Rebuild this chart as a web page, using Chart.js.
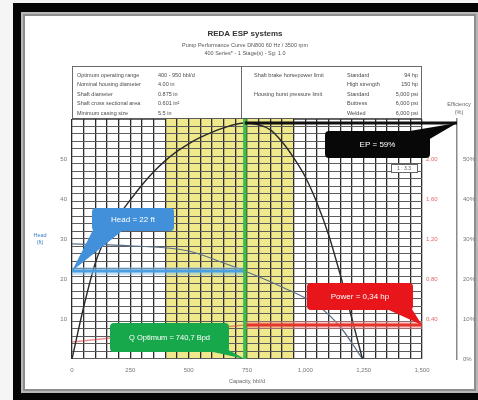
<!DOCTYPE html>
<html>
<head>
<meta charset="utf-8">
<script src="https://cdn.jsdelivr.net/npm/chart.js@4.4.1/dist/chart.umd.min.js"></script>
<style>
  html, body { margin: 0; padding: 0; background: #fff; overflow: hidden; }
  #wrap { width: 478px; height: 400px; }
</style>
</head>
<body>
<div id="wrap"><canvas id="pumpCurve" width="478" height="400"></canvas></div>
<script>
// ---- Pump curve data (capacity in bbl/d) ----
const effCapacity   = [0, 50, 100, 150, 200, 250, 300, 350, 400, 450, 500, 550, 650, 740.7, 850, 900, 950, 1000, 1050, 1100, 1150, 1200, 1245];
const effValues     = [0, 13, 24, 31, 35.8, 39.8, 43.5, 46.8, 49.6, 51.9, 53.8, 55.4, 57.8, 59, 57.3, 54.3, 50.3, 45.5, 39, 31, 21, 10, 0];

const headCapacity  = [0, 250, 500, 650, 740.7, 900, 1050, 1150, 1245];
const headValues    = [28.8, 28.3, 27, 24, 22, 18, 13.5, 8, 0];

const powerCapacity = [0, 250, 500, 740.7];
const powerValues   = [0.17, 0.23, 0.29, 0.34];

// ---- Operating point ----
const optimumRange   = [400, 950];
const qOptimum       = 740.7;
const headAtOptimum  = 22;
const powerAtOptimum = 0.34;
const peakEfficiency = 59;

// ---- Axis tick labels ----
const capacityTicks   = [0, 250, 500, 750, 1000, 1250, 1500];
const headTicks       = [10, 20, 30, 40, 50];
const powerTicks      = [0.4, 0.8, 1.2, 1.6, 2.0];
const efficiencyTicks = [0, 10, 20, 30, 40, 50];

// ---- Header texts ----
const titleLines = ['REDA ESP systems', 'Pump Performance Curve DN800 60 Hz / 3500 rpm', '400 Series* - 1 Stage(s) - Sg: 1.0'];
const specLabels  = ['Optimum operating range', 'Nominal housing diameter', 'Shaft diameter', 'Shaft cross sectional area', 'Minimum casing size'];
const specValues  = ['400 - 950 bbl/d', '4.00 in', '0.875 in', '0.601 in\u00B2', '5.5 in'];
const limitGroups = ['Shaft brake horsepower limit', '', 'Housing burst pressure limit', '', ''];
const limitKinds  = ['Standard', 'High strength', 'Standard', 'Buttress', 'Welded'];
const limitValues = ['94 hp', '150 hp', '5,000 psi', '6,000 psi', '6,000 psi'];

const FONT = "'Liberation Sans', Arial, sans-serif";
const NARROW = "'Liberation Sans Narrow', 'Liberation Sans', Arial, sans-serif";
Chart.defaults.font.family = FONT;

const near = (list, v) => list.some(t => Math.abs(t - v) < 1e-6);
const pts = (xs, ys) => xs.map((x, i) => ({ x, y: ys[i] }));

function roundBox(ctx, x, y, w, h, r) {
  ctx.beginPath();
  ctx.moveTo(x + r, y);
  ctx.lineTo(x + w - r, y);
  ctx.quadraticCurveTo(x + w, y, x + w, y + r);
  ctx.lineTo(x + w, y + h - r);
  ctx.quadraticCurveTo(x + w, y + h, x + w - r, y + h);
  ctx.lineTo(x + r, y + h);
  ctx.quadraticCurveTo(x, y + h, x, y + h - r);
  ctx.lineTo(x, y + r);
  ctx.quadraticCurveTo(x, y, x + r, y);
  ctx.closePath();
}

function callout(ctx, box, color, text, base, apex, size) {
  ctx.save();
  ctx.fillStyle = color;
  ctx.beginPath();
  ctx.moveTo(base[0][0], base[0][1]);
  ctx.lineTo(base[1][0], base[1][1]);
  ctx.lineTo(apex[0], apex[1]);
  ctx.closePath();
  ctx.fill();
  roundBox(ctx, box[0], box[1], box[2], box[3], 4);
  ctx.fill();
  ctx.fillStyle = '#ffffff';
  ctx.font = size + 'px ' + FONT;
  ctx.textAlign = 'center';
  ctx.textBaseline = 'middle';
  ctx.fillText(text, box[0] + box[2] / 2, box[1] + box[3] / 2 + 0.5);
  ctx.restore();
}

// Page frame, header, spec table and the optimum operating band
const sheetBackground = {
  id: 'sheetBackground',
  beforeDraw(chart) {
    const { ctx, chartArea: a, scales } = chart;
    ctx.save();
    ctx.fillStyle = '#f5f5f5'; ctx.fillRect(0, 0, 478, 400);
    ctx.fillStyle = '#050505'; ctx.fillRect(13, 3, 465, 397);
    ctx.fillStyle = '#b8b8b8'; ctx.fillRect(21, 12, 457, 381);
    ctx.fillStyle = '#8e8e8e'; ctx.fillRect(23, 14, 453, 377);
    ctx.fillStyle = '#ffffff'; ctx.fillRect(25, 16, 449, 373);

    const cx = (a.left + a.right) / 2 - 2;
    ctx.textAlign = 'center';
    ctx.textBaseline = 'middle';
    ctx.fillStyle = '#333';
    ctx.font = 'bold 8px ' + FONT;
    ctx.fillText(titleLines[0], cx, 34);
    ctx.fillStyle = '#555';
    ctx.font = '5.5px ' + FONT;
    ctx.fillText(titleLines[1], cx, 45);
    ctx.fillText(titleLines[2], cx, 53);

    // spec table
    const tTop = 66;
    ctx.strokeStyle = '#6a6a6a';
    ctx.lineWidth = 1;
    ctx.strokeRect(a.left + 0.5, tTop + 0.5, a.right - a.left - 1, a.top - tTop);
    ctx.beginPath();
    ctx.moveTo(241.5, tTop); ctx.lineTo(241.5, a.top);
    ctx.stroke();
    ctx.font = '5.5px ' + NARROW;
    ctx.fillStyle = '#4a4a4a';
    ctx.textAlign = 'left';
    specLabels.forEach((t, i) => {
      const y = 75 + i * 9.5;
      ctx.fillText(t, 77, y);
      ctx.fillText(specValues[i], 158, y);
      if (limitGroups[i]) ctx.fillText(limitGroups[i], 254, y);
      ctx.fillText(limitKinds[i], 347, y);
    });
    ctx.textAlign = 'right';
    limitValues.forEach((t, i) => ctx.fillText(t, 418, 75 + i * 9.5));

    // optimum operating range band
    const x0 = scales.x.getPixelForValue(optimumRange[0]);
    const x1 = scales.x.getPixelForValue(optimumRange[1]);
    ctx.fillStyle = '#efe98c';
    ctx.fillRect(x0, a.top, x1 - x0, a.bottom - a.top);
    ctx.restore();
  }
};

// Operating point markers, axis captions and callouts
const operatingPoint = {
  id: 'operatingPoint',
  afterDatasetsDraw(chart) {
    const { ctx, chartArea: a, scales } = chart;
    const qx = scales.x.getPixelForValue(qOptimum);
    const hy = scales.yHead.getPixelForValue(headAtOptimum);
    const py = scales.yPower.getPixelForValue(powerAtOptimum);
    const ey = scales.yEff.getPixelForValue(peakEfficiency);
    const effX = scales.yEff.left;
    ctx.save();
    ctx.lineCap = 'butt';

    // head at optimum
    ctx.strokeStyle = 'rgba(140,195,240,0.45)'; ctx.lineWidth = 8;
    ctx.beginPath(); ctx.moveTo(a.left, hy); ctx.lineTo(qx, hy); ctx.stroke();
    ctx.strokeStyle = '#4a9ee2'; ctx.lineWidth = 3;
    ctx.beginPath(); ctx.moveTo(a.left, hy); ctx.lineTo(qx, hy); ctx.stroke();

    // power at optimum
    ctx.strokeStyle = 'rgba(240,130,130,0.45)'; ctx.lineWidth = 8;
    ctx.beginPath(); ctx.moveTo(qx, py); ctx.lineTo(a.right, py); ctx.stroke();
    ctx.strokeStyle = '#e5362e'; ctx.lineWidth = 3;
    ctx.beginPath(); ctx.moveTo(qx, py); ctx.lineTo(a.right, py); ctx.stroke();

    // optimum capacity
    ctx.strokeStyle = '#3cbf4a'; ctx.lineWidth = 3.5;
    ctx.beginPath(); ctx.moveTo(qx, a.top); ctx.lineTo(qx, a.bottom); ctx.stroke();

    // peak efficiency
    ctx.strokeStyle = '#111'; ctx.lineWidth = 3;
    ctx.beginPath(); ctx.moveTo(qx, ey); ctx.lineTo(effX, ey); ctx.stroke();

    // axis captions
    ctx.textAlign = 'center'; ctx.textBaseline = 'middle';
    ctx.font = '5.5px ' + FONT;
    ctx.fillStyle = '#3d7fc8';
    ctx.fillText('Head', 40, 235);
    ctx.fillText('(ft)', 40, 242);
    ctx.fillStyle = '#666';
    ctx.fillText('Efficiency', effX + 2, 104);
    ctx.fillText('(%)', effX + 2, 112);
    ctx.fillText('Capacity, bbl/d', (a.left + a.right) / 2, 381);

    // small scale note
    ctx.fillStyle = '#fff'; ctx.strokeStyle = '#666'; ctx.lineWidth = 1;
    ctx.fillRect(391, 164, 26, 8); ctx.strokeRect(391.5, 164.5, 26, 8);
    ctx.fillStyle = '#555'; ctx.font = '5px ' + FONT;
    ctx.fillText('1 : 3.3', 404, 168.5);
    ctx.restore();

    callout(ctx, [325, 131, 105, 27], '#080808', 'EP = ' + peakEfficiency + '%',
      [[398, 133], [428, 140]], [effX, ey], 8);
    callout(ctx, [92, 208, 82, 23], '#4290da', 'Head = ' + headAtOptimum + ' ft',
      [[95, 226], [122, 231]], [a.left, hy], 8);
    callout(ctx, [307, 283, 106, 27], '#e8151b', 'Power = ' + String(powerAtOptimum).replace('.', ',') + ' hp',
      [[380, 306], [410, 306]], [a.right, py], 8);
    callout(ctx, [110, 323, 119, 29], '#17a84b', 'Q Optimum = ' + String(qOptimum).replace('.', ',') + ' Bpd',
      [[195, 348], [225, 348]], [qx, a.bottom], 7.5);
  }
};

const small = { size: 6, family: FONT };

new Chart(document.getElementById('pumpCurve'), {
  type: 'line',
  data: {
    datasets: [
      { label: 'Efficiency', data: pts(effCapacity, effValues), yAxisID: 'yEff',
        borderColor: '#2a2a2a', borderWidth: 1.4, pointRadius: 0, cubicInterpolationMode: 'monotone' },
      { label: 'Head', data: pts(headCapacity, headValues), yAxisID: 'yHead',
        borderColor: '#5b6f8a', borderWidth: 1.2, pointRadius: 0, cubicInterpolationMode: 'monotone' },
      { label: 'Power', data: pts(powerCapacity, powerValues), yAxisID: 'yPower',
        borderColor: 'rgba(225,70,70,0.6)', borderWidth: 1.5, pointRadius: 0, cubicInterpolationMode: 'monotone' }
    ]
  },
  options: {
    responsive: false,
    animation: false,
    devicePixelRatio: 1,
    events: [],
    layout: { padding: { top: 119, bottom: 17, left: 0, right: 0 } },
    plugins: { legend: { display: false }, tooltip: { enabled: false } },
    scales: {
      x: {
        type: 'linear', position: 'bottom', min: 0, max: 1500,
        afterFit(s) { s.height = 24; },
        ticks: { stepSize: 50, autoSkip: false, maxRotation: 0, padding: 8, color: '#777', font: small,
          callback: v => near(capacityTicks, v) ? v.toLocaleString('en-US') : '' },
        grid: { color: '#2b2b2b', lineWidth: 1.3, drawTicks: false },
        border: { display: false }
      },
      yGrid: {
        type: 'linear', position: 'left', min: 0, max: 32,
        afterFit(s) { s.width = 0; },
        ticks: { display: false, stepSize: 1 },
        grid: { color: '#5c5c5c', lineWidth: 1.1, drawTicks: false },
        border: { display: false }
      },
      yHead: {
        type: 'linear', position: 'left', min: 0, max: 60,
        afterFit(s) { s.width = 72; },
        ticks: { stepSize: 10, includeBounds: false, padding: 5, color: '#777', font: small,
          callback: v => near(headTicks, v) ? String(v) : '' },
        grid: { display: false, drawTicks: false },
        border: { display: false }
      },
      yPower: {
        type: 'linear', position: 'right', min: 0, max: 2.4,
        afterFit(s) { s.width = 35; },
        ticks: { stepSize: 0.4, includeBounds: false, padding: 4, color: '#e06a6a', font: small,
          callback: v => near(powerTicks, v) ? v.toFixed(2).replace('.', ',') : '' },
        grid: { display: false, drawTicks: false },
        border: { display: false }
      },
      yEff: {
        type: 'linear', position: 'right', min: 0, max: 60,
        afterFit(s) { s.width = 21; },
        ticks: { stepSize: 10, includeBounds: false, padding: 3, color: '#777', font: small,
          callback: v => near(efficiencyTicks, v) ? v + '%' : '' },
        grid: { display: false, drawOnChartArea: false, drawTicks: true, tickLength: 3, color: '#888' },
        border: { display: true, color: '#8a8a8a', width: 1.5 }
      }
    }
  },
  plugins: [sheetBackground, operatingPoint]
});
</script>
</body>
</html>
